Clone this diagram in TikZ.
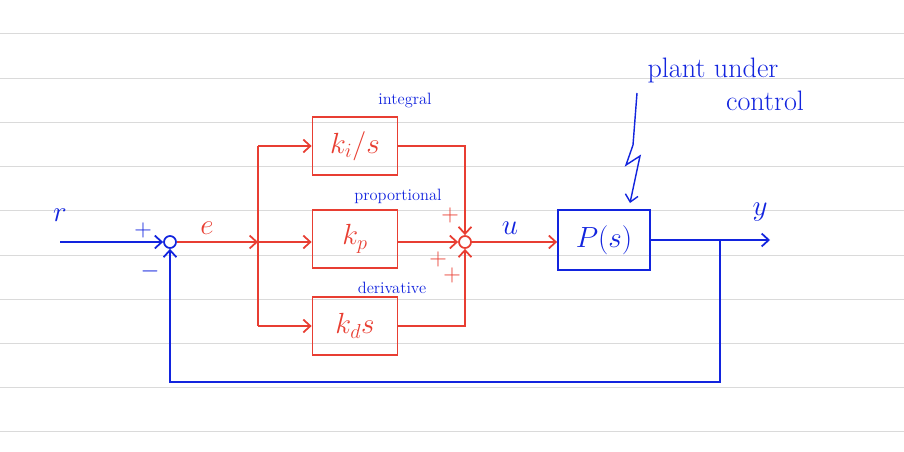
\documentclass[tikz,border=0pt]{standalone}
\usetikzlibrary{arrows.meta}
\definecolor{penred}{RGB}{232,62,50}
\definecolor{penblue}{RGB}{18,36,222}
\definecolor{rulegray}{RGB}{218,218,218}
\begin{document}
\begin{tikzpicture}[x=0.03cm,y=-0.03cm,line width=1.5pt,
    >={Straight Barb[length=6pt,width=11pt]},
    blk/.style={draw,minimum width=2.55cm,minimum height=1.74cm,
      font=\fontsize{26}{30}\selectfont},
    sumnode/.style={draw,circle,minimum size=0.36cm,inner sep=0pt},
    tag/.style={text=penblue,font=\fontsize{14}{16}\selectfont},
    sign/.style={font=\fontsize{22}{24}\selectfont},
    sig/.style={font=\fontsize{26}{30}\selectfont}]
  \useasboundingbox (0,0) rectangle (904,452);
  % ruled paper
  \foreach \y in {33,78,122,166,210,255,299,343,387,431}
    \draw[rulegray,line width=0.8pt] (0,\y) -- (904,\y);

  % summing junctions
  \node[sumnode,draw=penblue] (err) at (170,242) {};
  \node[sumnode,draw=penred] (ctl) at (465,242) {};

  % controller blocks
  \node[blk,draw=penred,text=penred] (ki) at (355,146) {$k_i/s$};
  \node[blk,draw=penred,text=penred] (kp) at (355,239) {$k_p$};
  \node[blk,draw=penred,text=penred] (kd) at (355,326) {$k_d s$};
  \node[tag] (tagi) at (405,100) {integral};
  \node[tag] (tagp) at (398,196) {proportional};
  \node[tag] (tagd) at (392,288) {derivative};

  % plant
  \node[blk,draw=penblue,text=penblue,minimum width=2.76cm,minimum height=1.8cm]
    (plant) at (604,240) {$P(s)$};

  \coordinate (rin) at (60,242);
  \coordinate (split) at (258,242);
  \coordinate (splittop) at (258,146);
  \coordinate (splitbot) at (258,326);
  \coordinate (yout) at (770,240);
  \coordinate (fb) at (720,240);
  \coordinate (fbdown) at (720,382);

  % error path
  \draw[penblue,->] (rin) -- (err);
  \draw[penred,->] (err) -- (split);
  \draw[penred] (splittop) -- (splitbot);
  \draw[penred,->] (splittop) -- (ki);
  \draw[penred,->] (split) -- (split -| kp.west);
  \draw[penred,->] (splitbot) -- (kd);
  \draw[penred,->] (ki) -| (ctl);
  \draw[penred,->] (kp.east |- ctl) -- (ctl);
  \draw[penred,->] (kd) -| (ctl);
  \draw[penred,->] (ctl) -- (ctl -| plant.west);
  \draw[penblue,->] (plant.east |- yout) -- (yout);
  \draw[penblue,->] (fb) -- (fbdown) -| (err);

  % labels
  \node[sig,text=penblue] (rlbl) at (60,215) {$r$};
  \node[sig,text=penred] (elbl) at (207,228) {$e$};
  \node[sig,text=penblue] (ulbl) at (510,228) {$u$};
  \node[sig,text=penblue] (ylbl) at (760,212) {$y$};
  \node[sign,text=penblue] (pl1) at (143,230) {$+$};
  \node[sign,text=penblue] (mn1) at (150,271) {$-$};
  \node[sign,text=penred] (pl2) at (450,215) {$+$};
  \node[sign,text=penred] (pl3) at (438,259) {$+$};
  \node[sign,text=penred] (pl4) at (452,275) {$+$};

  % annotation
  \node[text=penblue,font=\fontsize{24}{28}\selectfont] (note1) at (713,70) {plant under};
  \node[text=penblue,font=\fontsize{24}{28}\selectfont] (note2) at (765,101) {control};
  \draw[penblue,->,line width=1.2pt] (637,93) -- (633,145) -- (626,165)
    -- (640,156) -- (630,203);
\end{tikzpicture}
\end{document}
